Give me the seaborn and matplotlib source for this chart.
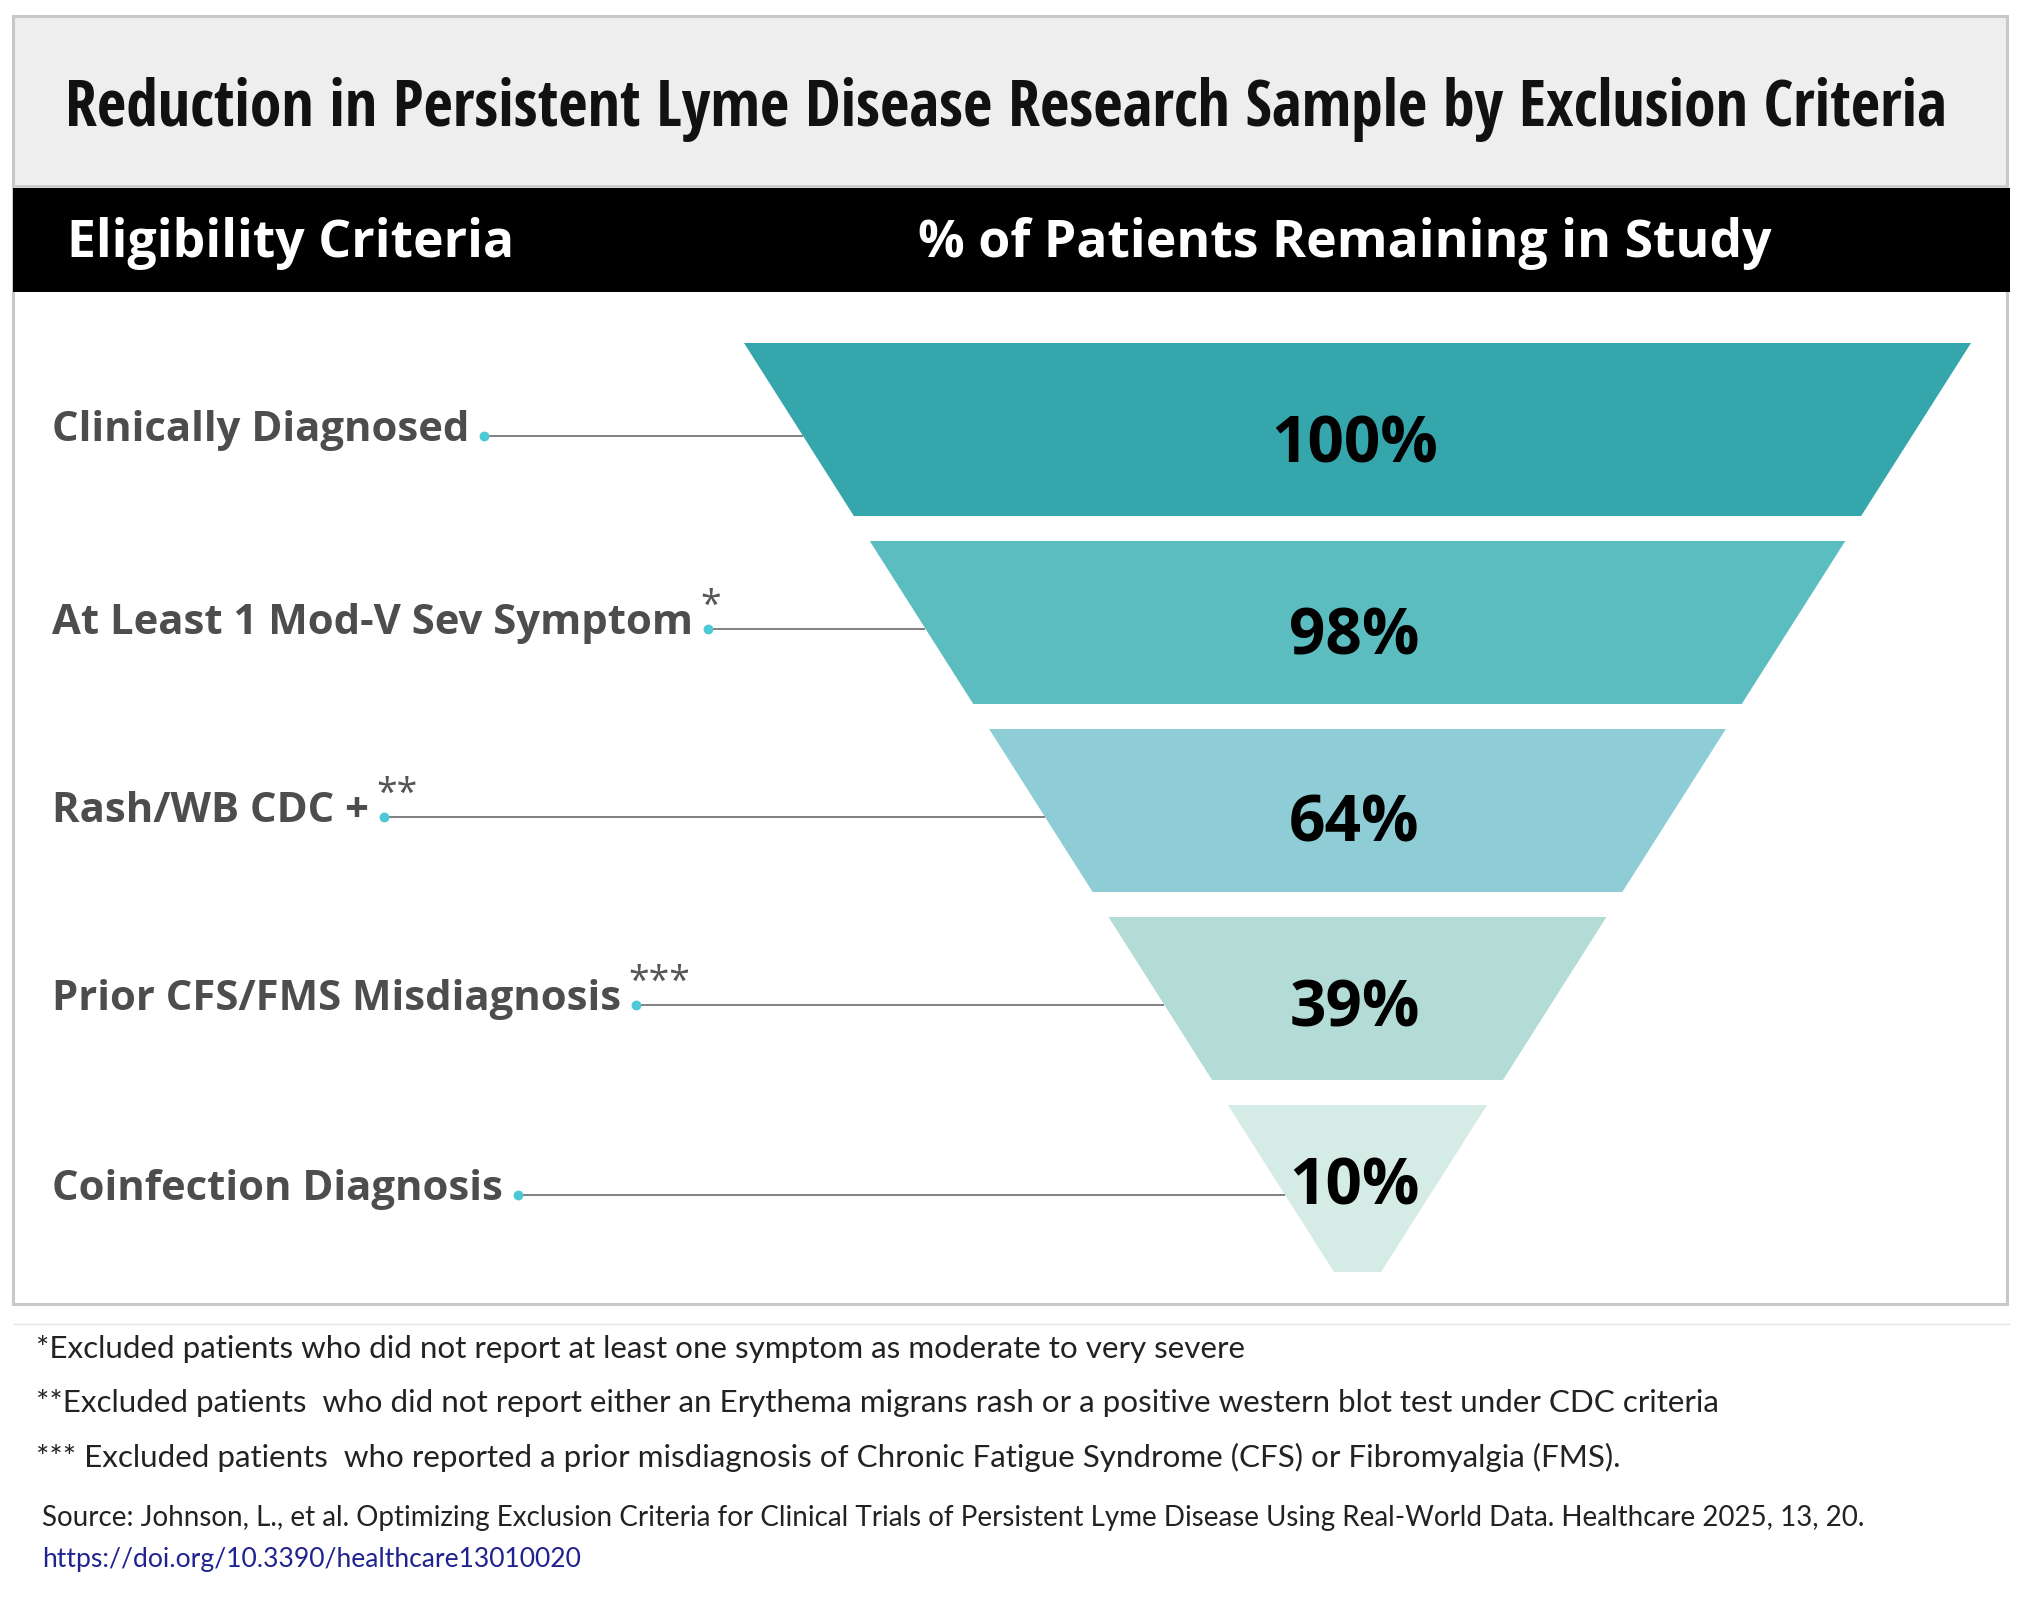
import matplotlib
matplotlib.use("Agg")
import matplotlib.pyplot as plt
import seaborn as sns
import pandas as pd
from matplotlib import font_manager
from matplotlib.patches import Rectangle

# Data
stages = ["Clinically Diagnosed", "At Least 1 Mod-V Sev Symptom", "Rash/WB CDC +",
          "Prior CFS/FMS Misdiagnosis", "Coinfection Diagnosis"]
pct_remaining = [100, 98, 64, 39, 10]
stage_marks = ["", "*", "**", "***", ""]
stage_colors = ["#34a6ac", "#5bbdc0", "#8ecdd6", "#b2dcd5", "#d5ebe5"]

title = "Reduction in Persistent Lyme Disease Research Sample by Exclusion Criteria"
col_headers = ["Eligibility Criteria", "% of Patients Remaining in Study"]
footnotes = [
    "*Excluded patients who did not report at least one symptom as moderate to very severe",
    "**Excluded patients  who did not report either an Erythema migrans rash or a positive western blot test under CDC criteria",
    "*** Excluded patients  who reported a prior misdiagnosis of Chronic Fatigue Syndrome (CFS) or Fibromyalgia (FMS).",
]
source_text = ("Source: Johnson, L., et al. Optimizing Exclusion Criteria for Clinical Trials of "
               "Persistent Lyme Disease Using Real-World Data. Healthcare 2025, 13, 20.")
source_url = "https://doi.org/10.3390/healthcare13010020"

# Style
sns.set_theme(style="white")
plt.rcParams['font.family'] = ['Open Sans', 'DejaVu Sans']

installed = {f.name for f in font_manager.fontManager.ttflist}
title_font = 'Open Sans'
for cand in ['Open Sans Condensed', 'Roboto Condensed', 'Liberation Sans Narrow', 'DejaVu Sans Condensed']:
    if cand in installed:
        title_font = cand
        break
note_font = 'Lato' if 'Lato' in installed else 'Open Sans'

# Canvas in pixel units
W, H = 2021, 1600
fig = plt.figure(figsize=(W / 100, H / 100), dpi=100)
ax = fig.add_axes([0, 0, 1, 1])
ax.set_xlim(0, W)
ax.set_ylim(H, 0)
ax.axis('off')
renderer = fig.canvas.get_renderer()


def fit_width(txt, target):
    w = txt.get_window_extent(renderer).width
    txt.set_fontsize(txt.get_fontsize() * target / w)
    return txt.get_fontsize()


# Frame, title box, header bar
ax.add_patch(Rectangle((13, 16), 1994, 170, fc='#eeeeee', ec='none', zorder=0))
ax.add_patch(Rectangle((13, 16), 1994, 1288, fill=False, ec='#c8c8c8', lw=2.2, zorder=1))
ax.hlines(186, 13, 2007, color='#cccccc', lw=2, zorder=1)
ax.add_patch(Rectangle((13, 188), 1997, 104, fc='black', ec='none', zorder=2))

t = ax.text(1006, 110, title, ha='center', va='center', family=[title_font, 'DejaVu Sans'],
            weight='bold', color='#111111', fontsize=40)
fit_width(t, 1885)

h1 = ax.text(67, 243, col_headers[0], ha='left', va='center', weight='bold',
             color='white', fontsize=38, zorder=3)
fit_width(h1, 446)
h2 = ax.text(1345, 243, col_headers[1], ha='center', va='center', weight='bold',
             color='white', fontsize=h1.get_fontsize(), zorder=3)

# Funnel geometry (layout only: widths are decorative, not value-scaled)
top_y, bot_y = 343, 1272
cx, hw_top, hw_bot = 1357.5, 613.5, 23.5
band_heights = [173, 163, 163, 163, 167]
gap = 25


def half_width(y):
    return hw_top + (y - top_y) * (hw_bot - hw_top) / (bot_y - top_y)


centers = []
y0 = top_y
for val, col, bh in zip(pct_remaining, stage_colors, band_heights):
    y1 = y0 + bh
    a, b = half_width(y0), half_width(y1)
    ax.fill([cx - a, cx + a, cx + b, cx - b], [y0, y0, y1, y1], color=col, lw=0, zorder=2)
    # centroid of trapezoid for the value label
    cy = y0 + bh * (a + 2 * b) / (3 * (a + b))
    ax.text(cx - 3, cy + 19, f"{val}%", ha='center', va='center', weight='bold',
            color='black', fontsize=46, zorder=3)
    centers.append(y0 + bh / 2)
    y0 = y1 + gap

# Stage labels with connector lines
line_ys = [c + 6 for c in centers]
labels = []
for name, ly in zip(stages, line_ys):
    lbl = ax.text(52, ly - 5, name, ha='left', va='center', weight='bold',
                  color='#4d4d4d', fontsize=31, zorder=3)
    labels.append(lbl)
lbl_size = fit_width(labels[0], 418)
for lbl in labels[1:]:
    lbl.set_fontsize(lbl_size)

dots = []
for lbl, ly, mark in zip(labels, line_ys, stage_marks):
    bb = lbl.get_window_extent(renderer)
    dot_x = bb.x1 + 15
    edge_x = cx - half_width(ly)
    ax.hlines(ly, dot_x, edge_x, color='#6b6b6b', lw=1.2, zorder=3)
    if mark:
        ax.text(dot_x - 8, ly - 3, mark, ha='left', va='bottom',
                color='#555555', fontsize=27, zorder=3)
    dots.append({'x': dot_x, 'y': ly})

dot_df = pd.DataFrame(dots)
sns.scatterplot(data=dot_df, x='x', y='y', ax=ax, color='#4cc9d4', s=50,
                linewidth=0, legend=False, zorder=5)
ax.set_xlim(0, W)
ax.set_ylim(H, 0)
ax.axis('off')

# Footnotes and source
ax.hlines(1324, 13, 2010, color='#e6e6e6', lw=1)
notes = []
for k, note in enumerate(footnotes):
    notes.append(ax.text(36, 1349 + k * 54, note, ha='left', va='center',
                         family=[note_font, 'DejaVu Sans'], color='#222222', fontsize=21))
note_size = fit_width(notes[0], 1212)
for n in notes[1:]:
    n.set_fontsize(note_size)

src = ax.text(42, 1518, source_text, ha='left', va='center',
              family=[note_font, 'DejaVu Sans'], color='#222222', fontsize=19)
fit_width(src, 1820)
url = ax.text(42, 1559, source_url, ha='left', va='center', family=[note_font, 'DejaVu Sans'],
              color='#1f2390', fontsize=19)
fit_width(url, 539)

fig.savefig('out.png', dpi=100)
